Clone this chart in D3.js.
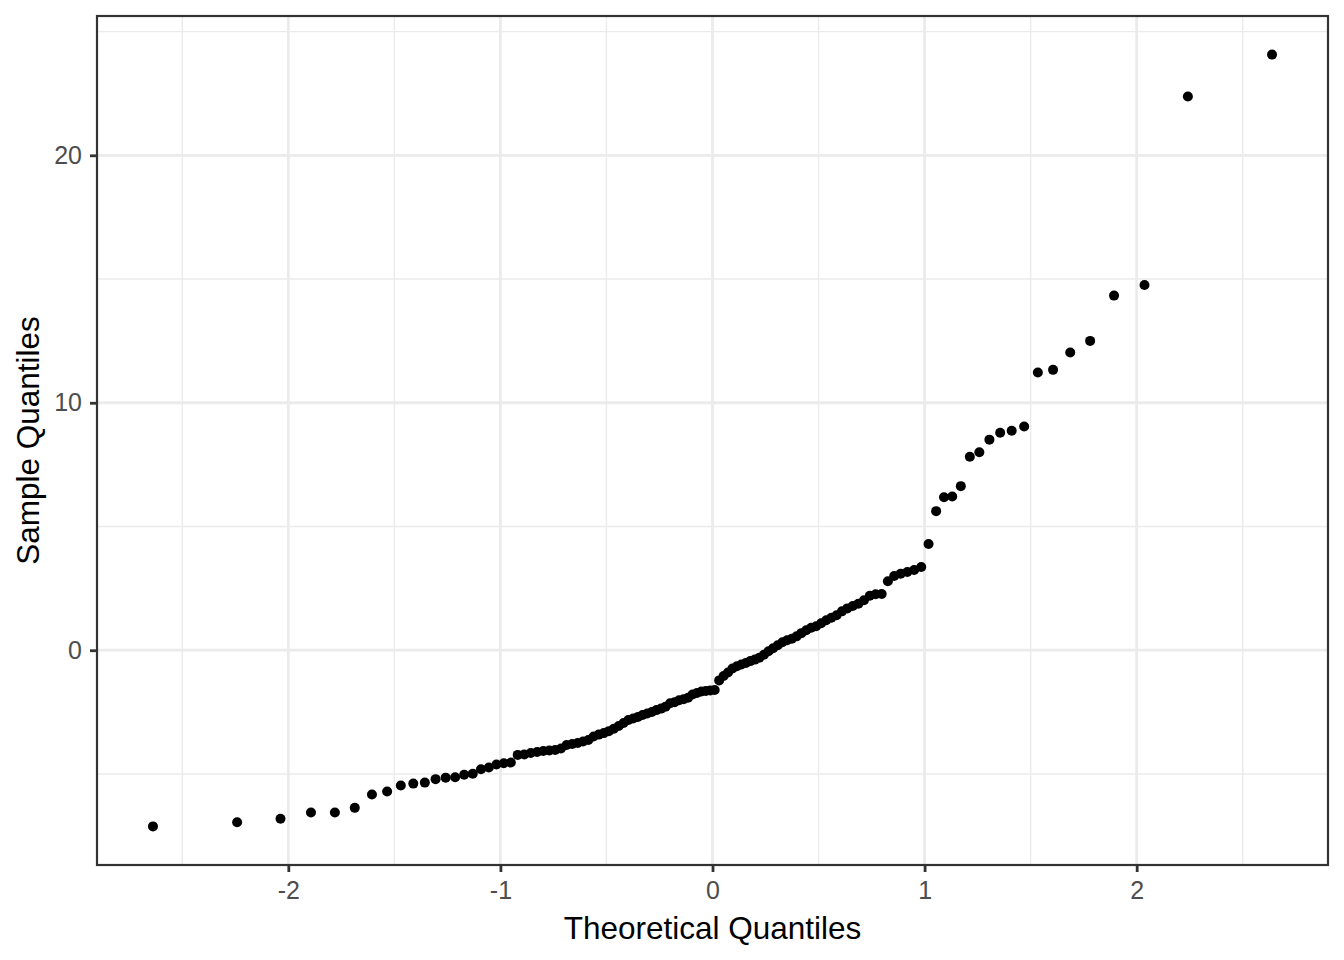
<!DOCTYPE html>
<html>
<head>
<meta charset="utf-8">
<script src="https://cdn.jsdelivr.net/npm/d3@7"></script>
<style>
  html, body { margin: 0; padding: 0; background: #ffffff; }
  svg { display: block; font-family: "Liberation Sans", Arial, sans-serif; }
</style>
</head>
<body>
<svg id="chart" width="1344" height="960"></svg>
<script>
// Sorted sample values (n = 120)
const sampleValues = [
  -7.12, -6.95, -6.81, -6.56, -6.56, -6.37, -5.83, -5.71, -5.47, -5.39,
  -5.35, -5.21, -5.15, -5.13, -5.03, -4.99, -4.81, -4.74, -4.62, -4.57,
  -4.54, -4.23, -4.21, -4.15, -4.11, -4.07, -4.05, -4.03, -3.97, -3.83,
  -3.79, -3.75, -3.69, -3.63, -3.49, -3.41, -3.35, -3.27, -3.17, -3.06,
  -2.94, -2.82, -2.76, -2.70, -2.62, -2.56, -2.50, -2.42, -2.36, -2.28,
  -2.14, -2.10, -2.02, -1.98, -1.92, -1.79, -1.73, -1.67, -1.65, -1.63,
  -1.61, -1.22, -1.04, -0.90, -0.74, -0.65, -0.58, -0.52, -0.44, -0.38,
  -0.30, -0.18, -0.04, 0.08, 0.20, 0.32, 0.40, 0.46, 0.56, 0.69,
  0.81, 0.91, 0.97, 1.09, 1.21, 1.31, 1.41, 1.57, 1.69, 1.79,
  1.88, 2.02, 2.20, 2.26, 2.27, 2.79, 3.00, 3.09, 3.16, 3.24,
  3.36, 4.29, 5.62, 6.18, 6.21, 6.63, 7.82, 8.00, 8.51, 8.79,
  8.87, 9.04, 11.22, 11.33, 12.03, 12.50, 14.33, 14.76, 22.38, 24.07
];
const xTickValues = [-2, -1, 0, 1, 2];
const xMinorValues = [-2.5, -1.5, -0.5, 0.5, 1.5, 2.5];
const yTickValues = [0, 10, 20];
const yMinorValues = [-5, 5, 15, 25];
const xTitle = "Theoretical Quantiles";
const yTitle = "Sample Quantiles";

// Inverse standard normal CDF (Acklam's algorithm) for theoretical quantiles
function qnorm(p) {
  const a = [-3.969683028665376e+01, 2.209460984245205e+02, -2.759285104469687e+02,
             1.383577518672690e+02, -3.066479806614716e+01, 2.506628277459239e+00];
  const b = [-5.447609879822406e+01, 1.615858368580409e+02, -1.556989798598866e+02,
             6.680131188771972e+01, -1.328068155288572e+01];
  const c = [-7.784894002430293e-03, -3.223964580411365e-01, -2.400758277161838e+00,
             -2.549732539343734e+00, 4.374664141464968e+00, 2.938163982698783e+00];
  const d = [7.784695709041462e-03, 3.224671290700398e-01, 2.445134137142996e+00,
             3.754408661907416e+00];
  const pl = 0.02425, ph = 1 - pl;
  let q, r;
  if (p < pl) {
    q = Math.sqrt(-2 * Math.log(p));
    return (((((c[0]*q+c[1])*q+c[2])*q+c[3])*q+c[4])*q+c[5]) /
           ((((d[0]*q+d[1])*q+d[2])*q+d[3])*q+1);
  } else if (p <= ph) {
    q = p - 0.5; r = q * q;
    return (((((a[0]*r+a[1])*r+a[2])*r+a[3])*r+a[4])*r+a[5])*q /
           (((((b[0]*r+b[1])*r+b[2])*r+b[3])*r+b[4])*r+1);
  } else {
    q = Math.sqrt(-2 * Math.log(1 - p));
    return -(((((c[0]*q+c[1])*q+c[2])*q+c[3])*q+c[4])*q+c[5]) /
            ((((d[0]*q+d[1])*q+d[2])*q+d[3])*q+1);
  }
}

const n = sampleValues.length;
const sorted = sampleValues.slice().sort((a, b) => a - b);
const points = sorted.map((v, i) => ({ x: qnorm((i + 1 - 0.5) / n), y: v }));

const panel = { left: 97, right: 1328, top: 16, bottom: 865 };

function expand(ext) {
  const pad = (ext[1] - ext[0]) * 0.05;
  return [ext[0] - pad, ext[1] + pad];
}
const x = d3.scaleLinear()
  .domain(expand(d3.extent(points, d => d.x)))
  .range([panel.left, panel.right]);
const y = d3.scaleLinear()
  .domain(expand(d3.extent(points, d => d.y)))
  .range([panel.bottom, panel.top]);

const svg = d3.select("#chart");
svg.append("rect").attr("width", 1344).attr("height", 960).attr("fill", "#ffffff");

const grid = svg.append("g");
// minor grid
grid.selectAll("line.xmin").data(xMinorValues).enter().append("line")
  .attr("x1", d => x(d)).attr("x2", d => x(d))
  .attr("y1", panel.top).attr("y2", panel.bottom)
  .attr("stroke", "#EBEBEB").attr("stroke-width", 1.4);
grid.selectAll("line.ymin").data(yMinorValues).enter().append("line")
  .attr("y1", d => y(d)).attr("y2", d => y(d))
  .attr("x1", panel.left).attr("x2", panel.right)
  .attr("stroke", "#EBEBEB").attr("stroke-width", 1.4);
// major grid
grid.selectAll("line.xmaj").data(xTickValues).enter().append("line")
  .attr("x1", d => x(d)).attr("x2", d => x(d))
  .attr("y1", panel.top).attr("y2", panel.bottom)
  .attr("stroke", "#EBEBEB").attr("stroke-width", 2.8);
grid.selectAll("line.ymaj").data(yTickValues).enter().append("line")
  .attr("y1", d => y(d)).attr("y2", d => y(d))
  .attr("x1", panel.left).attr("x2", panel.right)
  .attr("stroke", "#EBEBEB").attr("stroke-width", 2.8);

// points
svg.append("g").selectAll("circle").data(points).enter().append("circle")
  .attr("cx", d => x(d.x)).attr("cy", d => y(d.y))
  .attr("r", 5.0).attr("fill", "#000000");

// panel border
svg.append("rect")
  .attr("x", panel.left).attr("y", panel.top)
  .attr("width", panel.right - panel.left).attr("height", panel.bottom - panel.top)
  .attr("fill", "none").attr("stroke", "#333333").attr("stroke-width", 2.2);

// axes
const xAxis = svg.append("g")
  .attr("transform", `translate(0,${panel.bottom})`)
  .call(d3.axisBottom(x).tickValues(xTickValues).tickSize(7).tickPadding(9)
        .tickFormat(d3.format("d")));
const yAxis = svg.append("g")
  .attr("transform", `translate(${panel.left},0)`)
  .call(d3.axisLeft(y).tickValues(yTickValues).tickSize(7).tickPadding(8)
        .tickFormat(d3.format("d")));
[xAxis, yAxis].forEach(g => {
  g.select(".domain").remove();
  g.selectAll(".tick line").attr("stroke", "#333333").attr("stroke-width", 2.8);
  g.selectAll(".tick text").attr("fill", "#4D4D4D")
    .style("font-size", "25px").style("font-family", "'Liberation Sans', Arial, sans-serif");
});
xAxis.selectAll(".tick text").text(d => d < 0 ? "-" + Math.abs(d) : String(d));

// titles
svg.append("text")
  .attr("x", (panel.left + panel.right) / 2).attr("y", 939)
  .attr("text-anchor", "middle").attr("fill", "#000000")
  .style("font-size", "31.5px").text(xTitle);
svg.append("text")
  .attr("transform", `translate(39,${(panel.top + panel.bottom) / 2}) rotate(-90)`)
  .attr("text-anchor", "middle").attr("fill", "#000000")
  .style("font-size", "31.5px").text(yTitle);
</script>
</body>
</html>
